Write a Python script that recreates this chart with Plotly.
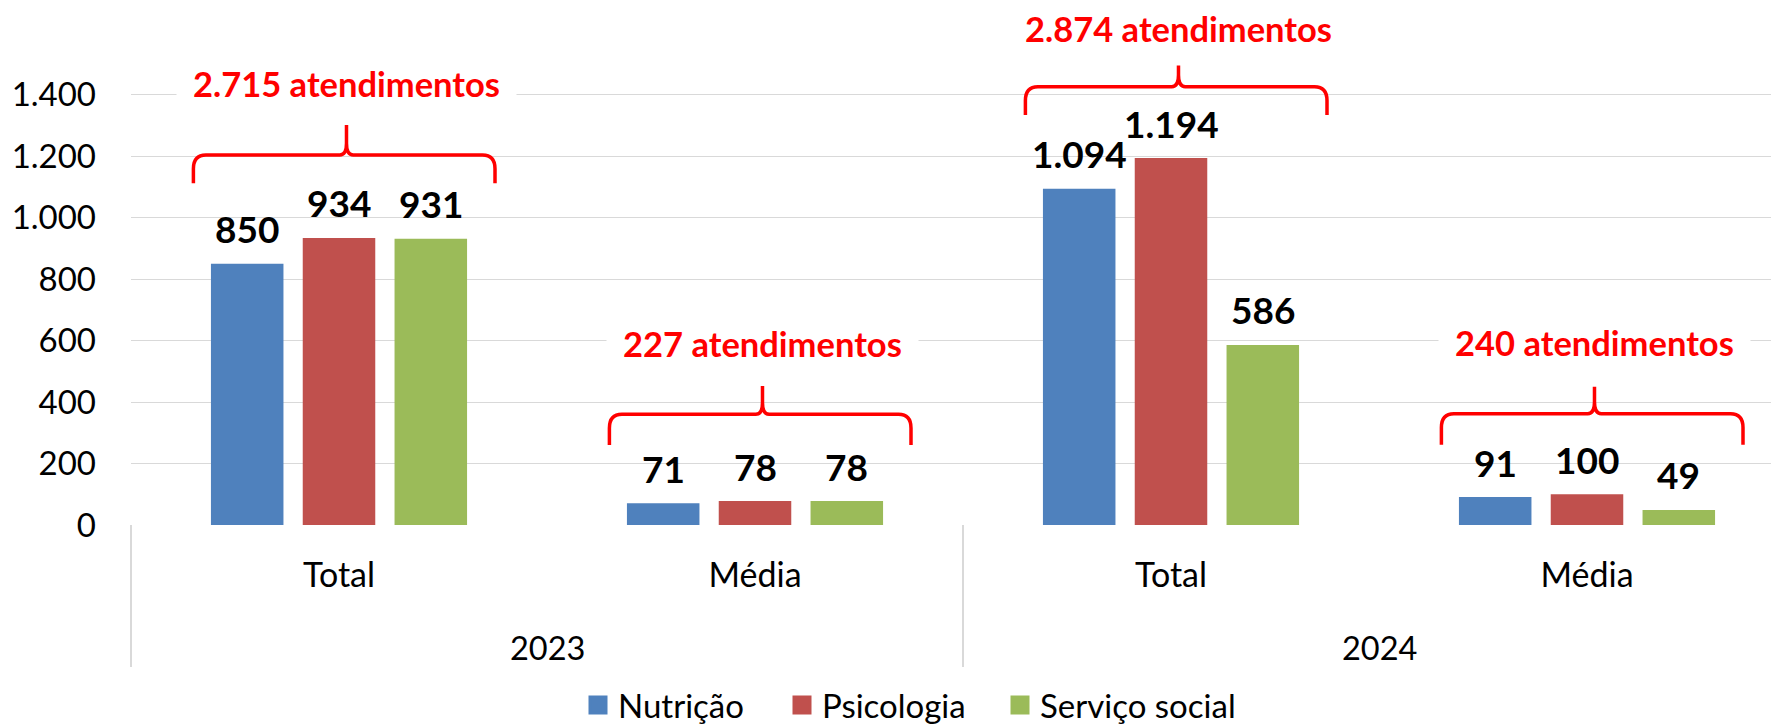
import plotly.graph_objects as go

# ---------------- data ----------------
years = ["2023", "2023", "2024", "2024"]
categories = ["Total", "Média", "Total", "Média"]
series_names = ["Nutrição", "Psicologia", "Serviço social"]
nutricao = [850, 71, 1094, 91]
psicologia = [934, 78, 1194, 100]
servico_social = [931, 78, 586, 49]
y_ticks = [0, 200, 400, 600, 800, 1000, 1200, 1400]

# ---------------- style / layout constants ----------------
colors = ["#4F81BD", "#C0504D", "#9BBB59"]
FONT = "Lato"
PAGE_W, PAGE_H = 1779, 728
BODY = 8                        # default page body margin
W, H = PAGE_W - BODY, PAGE_H - BODY
PLOT_L, PLOT_R, PLOT_B = 131, 1779, 525     # page pixels
M_L = PLOT_L - BODY
M_R = 0
M_T = 0
M_B = H - (PLOT_B - BODY)
PLOT_H = H - M_T - M_B
PLOT_W = W - M_L - M_R
CAT_PX = 416.0
PX_PER_UNIT = 0.30736
X_RANGE = [-0.5, -0.5 + PLOT_W / CAT_PX]
Y_RANGE = [0, PLOT_H / PX_PER_UNIT]
BARGAP = 0.338
BARGROUPGAP = 0.21
GRID = "#D9D9D9"
LEGEND_SYMBOL_X = [598, 802, 1020]   # page x of legend swatch centres
LEGEND_Y = 705

# brace geometry per group (data units): y_end, y_line, y_tip, y_text
brace_y = [(1112, 1204, 1301, 1438), (260, 360, 452, 592),
           (1334, 1426, 1497, 1616), (261, 362, 450, 595)]
BR_L, BR_R, BR_TIP = -0.35, 0.375, 0.018


def fmt(v):
    return f"{v:,}".replace(",", ".")


def page_y_to_paper(py):
    return -(py - PLOT_B) / PLOT_H


def page_x_to_paper(px):
    return (px - PLOT_L) / PLOT_W


series = [nutricao, psicologia, servico_social]
keys = [f"{y} {c}" for y, c in zip(years, categories)]

fig = go.Figure()
legend_ids = ["legend", "legend2", "legend3"]
for name, vals, col in zip(series_names, series, colors):
    fig.add_trace(go.Bar(
        x=keys, y=vals, name=name, legendgroup=name, showlegend=False,
        marker=dict(color=col, line=dict(width=0)),
    ))
# legend swatches (larger squares, like the original)
for name, col, lid in zip(series_names, colors, legend_ids):
    fig.add_trace(go.Scatter(
        x=[None], y=[None], mode="markers", name=name, legendgroup=name,
        legend=lid, hoverinfo="skip",
        marker=dict(symbol="square", size=16, color=col,
                    line=dict(color=col, width=3)),
    ))

annotations = []
shapes = []

# value labels above bars
slot = (1 - BARGAP) / len(series)
for j, vals in enumerate(series):
    off = (j - (len(series) - 1) / 2) * slot
    for i, v in enumerate(vals):
        annotations.append(dict(
            x=i + off, y=v, xref="x", yref="y", text=f"<b>{fmt(v)}</b>",
            showarrow=False, yshift=35, yanchor="middle",
            font=dict(family=FONT, size=37, color="black")))

# braces + totals
for i in range(len(keys)):
    total = sum(s[i] for s in series)
    y_end, y_line, y_tip, y_text = brace_y[i]
    x0, x1, xm = i + BR_L, i + BR_R, i + BR_TIP
    rx, ry = 0.03, 45
    rx2, ry2 = 0.016, 38
    path = (f"M {x0},{y_end} L {x0},{y_line - ry} Q {x0},{y_line} {x0 + rx},{y_line} "
            f"L {xm - rx2},{y_line} Q {xm},{y_line} {xm},{y_line + ry2} L {xm},{y_tip} "
            f"M {xm},{y_line + ry2} Q {xm},{y_line} {xm + rx2},{y_line} "
            f"L {x1 - rx},{y_line} Q {x1},{y_line} {x1},{y_line - ry} L {x1},{y_end}")
    shapes.append(dict(type="path", path=path, xref="x", yref="y",
                       line=dict(color="#FF0000", width=3.5), layer="above"))
    annotations.append(dict(
        x=i + BR_TIP, y=y_text, xref="x", yref="y",
        text=f"<b>{fmt(total)} atendimentos</b>", showarrow=False,
        font=dict(family=FONT, size=34.5, color="#FF0000"),
        bgcolor="white", borderpad=16))

# year labels and dividers
xr = X_RANGE[1] - X_RANGE[0]
uniq_years = list(dict.fromkeys(years))
for yv in uniq_years:
    idx = [i for i, y in enumerate(years) if y == yv]
    annotations.append(dict(
        x=sum(idx) / len(idx), y=page_y_to_paper(647), xref="x", yref="paper",
        text=yv, showarrow=False, yanchor="middle",
        font=dict(family=FONT, size=32.5, color="black")))
bounds = [-0.5]
for i in range(1, len(years)):
    if years[i] != years[i - 1]:
        bounds.append(i - 0.5)
bounds.append(len(years) - 0.5)
for b in bounds:
    px = (b - X_RANGE[0]) / xr
    if px <= 1.0001:
        shapes.append(dict(type="line", xref="paper", yref="paper",
                           x0=px, x1=px, y0=0, y1=-142 / PLOT_H,
                           line=dict(color=GRID, width=2)))

legend_common = dict(orientation="h", xanchor="left", yanchor="middle",
                     y=page_y_to_paper(LEGEND_Y),
                     font=dict(family=FONT, size=33, color="black"),
                     bgcolor="rgba(0,0,0,0)", itemsizing="trace")
legends = {}
for lid, sx in zip(legend_ids, LEGEND_SYMBOL_X):
    legends[lid] = dict(legend_common, x=page_x_to_paper(sx - 20))

fig.update_layout(
    width=W, height=H,
    margin=dict(l=M_L, r=M_R, t=M_T, b=M_B, autoexpand=False),
    paper_bgcolor="white", plot_bgcolor="white",
    barmode="group", bargap=BARGAP, bargroupgap=BARGROUPGAP,
    font=dict(family=FONT, size=33, color="black"),
    xaxis=dict(type="category", range=X_RANGE, tickvals=keys, ticktext=categories,
               showgrid=False, zeroline=False, showline=False, ticks="",
               tickfont=dict(family=FONT, size=34, color="black"),
               ticklabelstandoff=27),
    yaxis=dict(range=Y_RANGE, tickvals=y_ticks, ticktext=[fmt(v) for v in y_ticks],
               showgrid=True, gridcolor=GRID, gridwidth=1.4, zeroline=False,
               showline=False, ticks="", ticklabelstandoff=34,
               tickfont=dict(family=FONT, size=33, color="black")),
    annotations=annotations, shapes=shapes,
    showlegend=True,
    **legends,
)

fig.write_html("out.html")
